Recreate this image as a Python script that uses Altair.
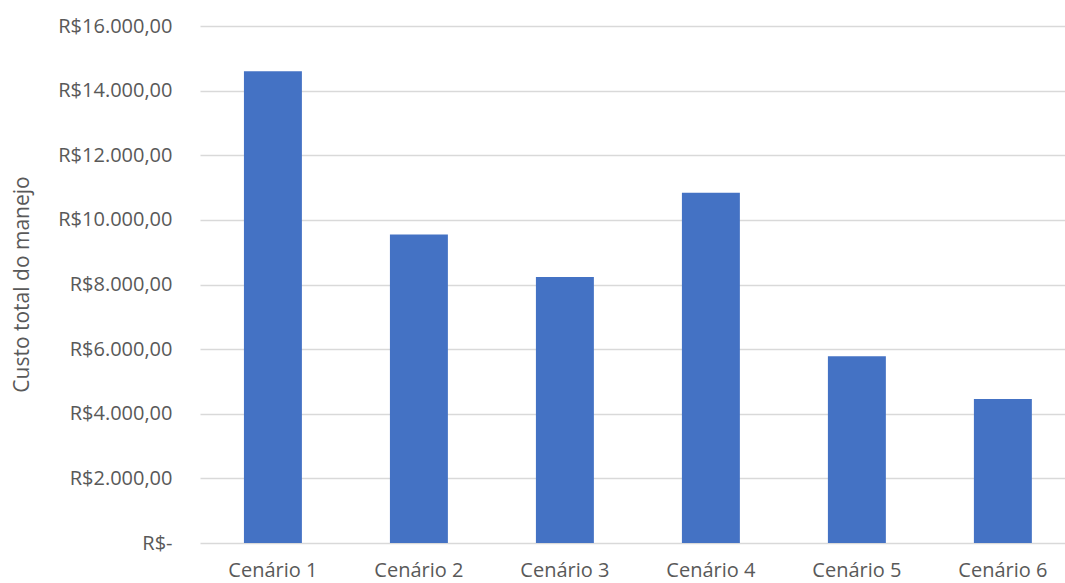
import altair as alt
import pandas as pd

categories = ["Cenário 1", "Cenário 2", "Cenário 3", "Cenário 4", "Cenário 5", "Cenário 6"]
values = [14600, 9550, 8230, 10840, 5780, 4460]
y_ticks = [0, 2000, 4000, 6000, 8000, 10000, 12000, 14000, 16000]

df = pd.DataFrame({"cenario": categories, "custo": values})

FONT = "Open Sans"
TXT = "#595959"
FS = 21

chart = alt.Chart(df).mark_bar(color="#4472C4").encode(
    x=alt.X("cenario:N", sort=categories, title=None,
            scale=alt.Scale(paddingInner=0.603, paddingOuter=0.264, align=0.57),
            axis=alt.Axis(labelAngle=0, domain=False, ticks=False, grid=False, labelPadding=17,
                          labelFont=FONT, labelFontSize=FS - 1, labelColor=TXT)),
    y=alt.Y("custo:Q", title="Custo total do manejo",
            scale=alt.Scale(domain=[0, 16000], nice=False),
            axis=alt.Axis(values=y_ticks, domain=False, ticks=False, labelPadding=28,
                          grid=True, gridColor="#D9D9D9", gridWidth=1.5,
                          labelExpr="datum.value == 0 ? 'R$-\u00a0\u00a0' : 'R$' + replace(format(datum.value, ','), ',', '.') + ',00'",
                          labelFont=FONT, labelFontSize=FS - 1, labelColor=TXT,
                          titleFont=FONT, titleFontSize=FS, titleColor=TXT, titleFontWeight="normal",
                          titleAngle=270, titleX=-178, titleY=258, titleAlign="center",
                          titleBaseline="middle")),
).properties(
    width=865, height=517,
    background="white",
    autosize=alt.AutoSizeParams(type="none"),
    padding={"left": 200, "top": 26, "right": 0, "bottom": 40},
).configure_view(strokeWidth=0, stroke="transparent")

chart.save("out.html", embed_options={"renderer": "svg", "actions": False})
